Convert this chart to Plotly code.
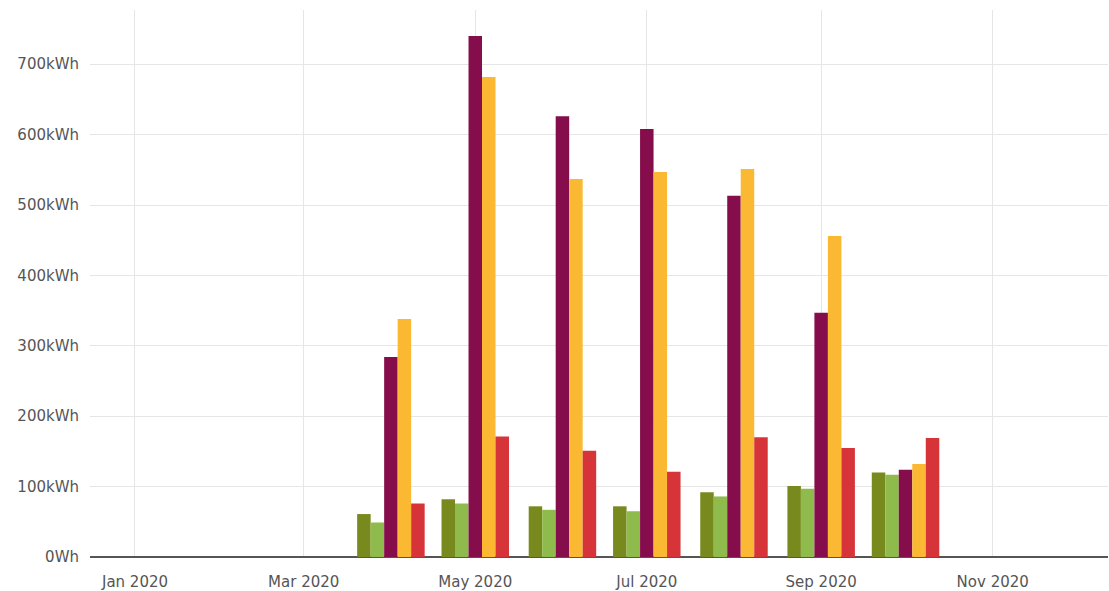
import plotly.graph_objects as go

# Monthly energy totals (kWh) per meter
months = ["2020-04-01", "2020-05-01", "2020-06-01", "2020-07-01",
          "2020-08-01", "2020-09-01", "2020-10-01"]

meter_a = [61, 82, 72, 72, 92, 101, 120]
meter_b = [49, 76, 67, 65, 86, 97, 117]
meter_c = [284, 740, 626, 608, 513, 347, 124]
meter_d = [338, 682, 537, 547, 551, 456, 132]
meter_e = [76, 171, 151, 121, 170, 155, 169]

series = [
    ("Meter A", meter_a, "#78891d"),
    ("Meter B", meter_b, "#8fbb4c"),
    ("Meter C", meter_c, "#850d4b"),
    ("Meter D", meter_d, "#fbb933"),
    ("Meter E", meter_e, "#d7343a"),
]

fig = go.Figure()
for name, vals, color in series:
    fig.add_trace(go.Bar(
        x=months,
        y=[v * 1000 for v in vals],
        name=name,
        marker=dict(color=color, line=dict(width=0)),
    ))

font_family = "DejaVu Sans, Verdana, sans-serif"
tick_font = dict(family=font_family, size=15, color="#555555")

fig.update_layout(
    width=1109,
    height=591,
    margin=dict(l=90, r=1, t=10, b=34),
    paper_bgcolor="white",
    plot_bgcolor="white",
    barmode="group",
    bargap=0.2,
    bargroupgap=0,
    showlegend=False,
    font=dict(family=font_family, size=15, color="#555555"),
    xaxis=dict(
        type="date",
        range=["2019-12-16", "2020-12-12"],
        dtick="M2",
        tick0="2020-01-01",
        tickformat="%b %Y",
        showgrid=True,
        gridcolor="#e6e6e6",
        gridwidth=1,
        zeroline=False,
        showline=False,
        ticks="",
        ticklabelstandoff=14,
        tickfont=tick_font,
    ),
    yaxis=dict(
        range=[0, 777000],
        dtick=100000,
        tickformat="~s",
        ticksuffix="Wh",
        showgrid=True,
        gridcolor="#e6e6e6",
        gridwidth=1,
        zeroline=True,
        zerolinecolor="#555555",
        zerolinewidth=1.5,
        showline=False,
        ticks="",
        ticklabelstandoff=10,
        tickfont=tick_font,
    ),
    modebar=dict(bgcolor="rgba(0,0,0,0)", color="#c8c8c8", activecolor="#555555"),
)

# keep the toolbar visible without hovering
show_modebar = """
var gd = document.getElementById('{plot_id}');
var css = document.createElement('style');
css.textContent = '.modebar-container .modebar > *, .modebar-group, .modebar-btn { opacity: 1 !important; visibility: visible !important; }';
document.head.appendChild(css);
gd.querySelectorAll('.modebar-group, .modebar-btn').forEach(function (el) {
    el.style.setProperty('opacity', '1', 'important');
});
"""

fig.write_html(
    "out.html",
    config=dict(
        displayModeBar=True,
        displaylogo=False,
        modeBarButtons=[["zoom2d", "pan2d"]],
    ),
    post_script=show_modebar,
)
